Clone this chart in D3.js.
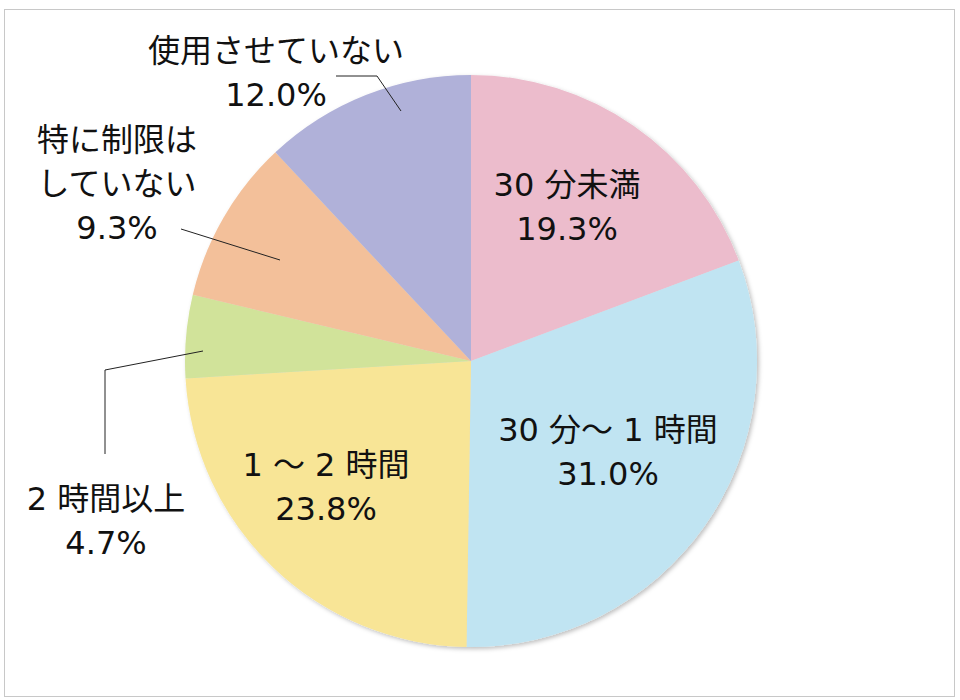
<!DOCTYPE html>
<html lang="ja">
<head>
  <meta charset="UTF-8">
  <title>利用時間の割合</title>
  <script src="https://d3js.org/d3.v7.min.js"></script>
  <style>
    body { margin: 0; background: #fff; }
    text { font-family: "DejaVu Sans", "Noto Sans CJK JP", sans-serif; fill: #111; }
  </style>
</head>
<body>
  <svg id="chart" width="960" height="700"></svg>
  <script>
    // データ（時計回り、12時の位置から）
    const categories = ['30 分未満', '30 分～ 1 時間', '1 ～ 2 時間', '2 時間以上', '特に制限はしていない', '使用させていない'];
    const values = [19.3, 31.0, 23.8, 4.7, 9.3, 12.0];
    const labelLines = [
      ['30 分未満'],
      ['30 分～ 1 時間'],
      ['1 ～ 2 時間'],
      ['2 時間以上'],
      ['特に制限は', 'していない'],
      ['使用させていない']
    ];
    const colors = ['#ecbccc', '#c0e4f2', '#f8e596', '#d1e39a', '#f3c09a', '#b0b1d9'];

    const svg = d3.select('#chart');
    const cx = 471, cy = 361, radius = 286;

    // 外枠
    svg.append('rect')
      .attr('x', 4.5).attr('y', 9.5)
      .attr('width', 950).attr('height', 687)
      .attr('fill', 'none').attr('stroke', '#c8c8c8');

    const defs = svg.append('defs');
    const f = defs.append('filter').attr('id', 'shadow')
      .attr('x', '-10%').attr('y', '-10%').attr('width', '120%').attr('height', '120%');
    f.append('feDropShadow').attr('dx', 2).attr('dy', 2).attr('stdDeviation', 2)
      .attr('flood-color', '#000').attr('flood-opacity', 0.25);

    const pie = d3.pie().sort(null).value(d => d);
    const arc = d3.arc().innerRadius(0).outerRadius(radius);
    const arcs = pie(values);

    const g = svg.append('g').attr('transform', `translate(${cx},${cy})`);
    g.append('g').attr('filter', 'url(#shadow)')
      .selectAll('path')
      .data(arcs)
      .join('path')
      .attr('d', arc)
      .attr('fill', (d, i) => colors[i]);

    // ラベル配置（レイアウト）
    const labelPos = [
      { x: 567, y: 196 },
      { x: 608, y: 441 },
      { x: 326, y: 476 },
      { x: 106, y: 510 },
      { x: 117, y: 151 },
      { x: 276, y: 62 }
    ];
    // 引き出し線（レイアウト）
    const leaders = [
      null,
      null,
      null,
      [[105, 454], [105, 370], [203, 351]],
      [[181, 229], [280, 260]],
      [[336, 76], [377, 76], [401, 111]]
    ];

    const lineGen = d3.line();
    leaders.forEach(pts => {
      if (!pts) return;
      svg.append('path')
        .attr('d', lineGen(pts))
        .attr('fill', 'none')
        .attr('stroke', '#222')
        .attr('stroke-width', 1);
    });

    categories.forEach((c, i) => {
      const p = labelPos[i];
      const lines = labelLines[i].concat([values[i].toFixed(1) + '%']);
      const t = svg.append('text')
        .attr('text-anchor', 'middle')
        .attr('font-size', 32);
      lines.forEach((s, j) => {
        t.append('tspan')
          .attr('x', p.x)
          .attr('y', p.y + j * 44)
          .text(s);
      });
    });
  </script>
</body>
</html>
